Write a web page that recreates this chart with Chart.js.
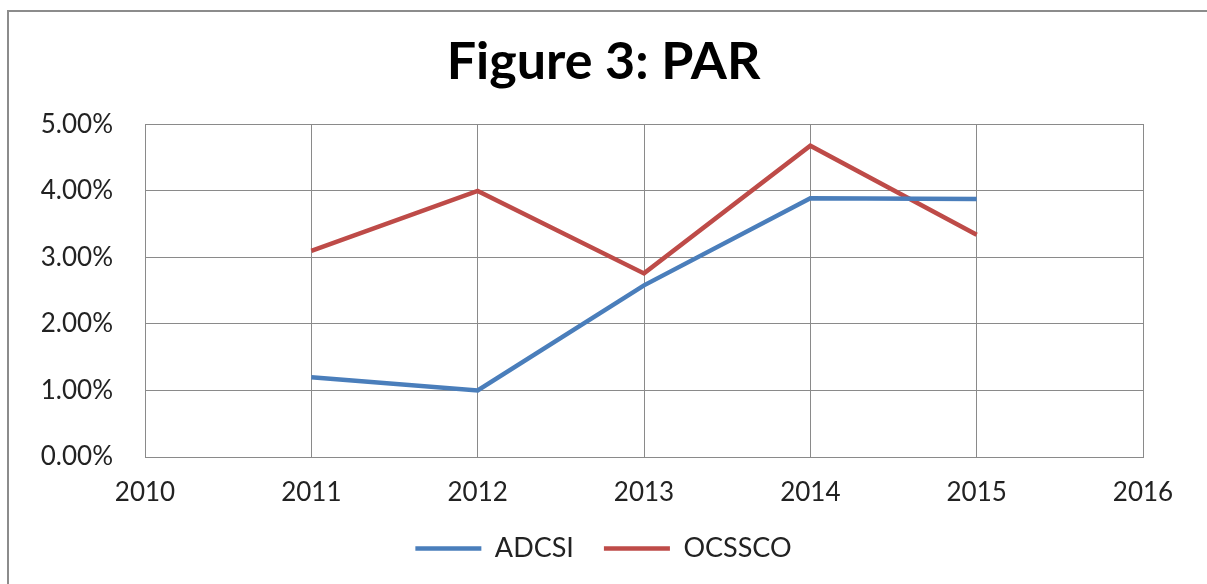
<!DOCTYPE html>
<html>
<head>
<meta charset="utf-8">
<script src="https://cdn.jsdelivr.net/npm/chart.js@4"></script>
<style>
  html, body { margin: 0; padding: 0; background: #fff; }
  #frame {
    position: absolute; left: 0; top: 0; width: 1207px; height: 584px;
  }
  #border {
    position: absolute; left: 7px; top: 10px; width: 1220px; height: 600px;
    border-left: 2px solid #8c8c8c; border-top: 2px solid #8c8c8c;
    pointer-events: none;
  }
</style>
</head>
<body>
<div id="frame">
  <canvas id="chart" width="1207" height="584"></canvas>
  <div id="border"></div>
</div>
<script>
// Data
const years = [2011, 2012, 2013, 2014, 2015];
const adcsi = [0.0120, 0.0100, 0.0258, 0.0389, 0.0388];
const ocssco = [0.0310, 0.0400, 0.0276, 0.0468, 0.0334];
const xTicks = [2010, 2011, 2012, 2013, 2014, 2015, 2016];
const yTicks = [0, 0.01, 0.02, 0.03, 0.04, 0.05];

const font = 'Lato, "Open Sans", sans-serif';

function points(values) {
    return years.map((y, i) => ({ x: y, y: values[i] }));
}

const ctx = document.getElementById('chart').getContext('2d');
new Chart(ctx, {
    type: 'line',
    data: {
        datasets: [
            {
                label: 'ADCSI',
                data: points(adcsi),
                borderColor: '#4a7ebb',
                backgroundColor: '#4a7ebb',
                borderWidth: 4.5,
                pointRadius: 0,
                tension: 0
            },
            {
                label: 'OCSSCO',
                data: points(ocssco),
                borderColor: '#be4b48',
                backgroundColor: '#be4b48',
                borderWidth: 4.5,
                pointRadius: 0,
                tension: 0
            }
        ]
    },
    options: {
        responsive: false,
        animation: false,
        layout: { padding: { left: 0, right: 0, top: 0, bottom: 12 } },
        plugins: {
            title: {
                display: true,
                text: 'Figure 3: PAR',
                color: '#000',
                font: { family: font, size: 52, weight: 'bold', lineHeight: 1.2 },
                padding: { top: 31, bottom: 31 }
            },
            legend: {
                position: 'bottom',
                labels: {
                    color: '#222',
                    font: { family: font, size: 27 },
                    usePointStyle: true,
                    pointStyle: 'line',
                    pointStyleWidth: 66,
                    padding: 30
                }
            },
            tooltip: { enabled: false }
        },
        scales: {
            x: {
                type: 'linear',
                min: xTicks[0],
                max: xTicks[xTicks.length - 1],
                afterBuildTicks: (scale) => { scale.ticks = xTicks.map(v => ({ value: v })); },
                ticks: {
                    color: '#222',
                    font: { family: font, size: 26 },
                    padding: 20,
                    callback: (v) => String(v)
                },
                grid: { color: '#8a8a8a', lineWidth: 1, drawTicks: false },
                border: { color: '#8a8a8a', width: 1 },
                afterFit: (scale) => { scale.height = 48; }
            },
            y: {
                min: 0,
                max: 0.05,
                afterBuildTicks: (scale) => { scale.ticks = yTicks.map(v => ({ value: v })); },
                ticks: {
                    color: '#222',
                    font: { family: font, size: 26 },
                    padding: 32,
                    callback: (v) => (v * 100).toFixed(2) + '%'
                },
                grid: { color: '#8a8a8a', lineWidth: 1, drawTicks: false },
                border: { color: '#8a8a8a', width: 1 },
                afterFit: (scale) => { scale.width = 145; }
            },
            // empty right-hand strip so the title stays centred on the page
            spacer: {
                type: 'linear',
                position: 'right',
                grid: { display: false },
                ticks: { display: false },
                border: { display: false },
                afterFit: (scale) => { scale.width = 64; }
            }
        }
    },
    plugins: [{
        id: 'plotBorder',
        afterDraw(chart) {
            const a = chart.chartArea;
            const c = chart.ctx;
            c.save();
            c.strokeStyle = '#8a8a8a';
            c.lineWidth = 1;
            c.strokeRect(Math.round(a.left) + 0.5, Math.round(a.top) + 0.5,
                Math.round(a.right - a.left), Math.round(a.bottom - a.top));
            c.restore();
        }
    }]
});
</script>
</body>
</html>
